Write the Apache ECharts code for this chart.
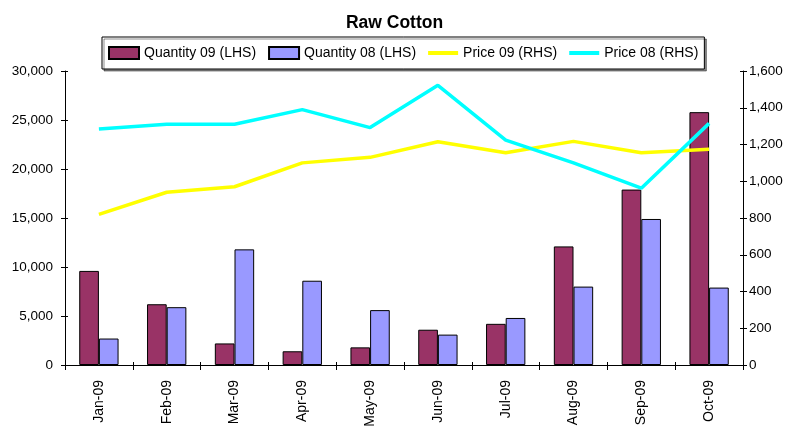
<!DOCTYPE html>
<html>
<head>
<meta charset="utf-8">
<script src="https://cdn.jsdelivr.net/npm/echarts@6/dist/echarts.min.js"></script>
<style>
  html, body { margin: 0; padding: 0; background: #fff; }
  #chart { width: 789px; height: 435px; }
</style>
</head>
<body>
<div id="chart"></div>
<script>
// months on the x axis
var months = ['Jan-09', 'Feb-09', 'Mar-09', 'Apr-09', 'May-09', 'Jun-09', 'Jul-09', 'Aug-09', 'Sep-09', 'Oct-09'];
// quantities (LHS)
var qty09 = [9600, 6200, 2200, 1400, 1800, 3600, 4200, 12100, 17900, 25800];
var qty08 = [2700, 5900, 11800, 8600, 5600, 3100, 4800, 8000, 14900, 7900];
// prices (RHS)
var price09 = [820, 940, 970, 1100, 1130, 1215, 1155, 1217, 1155, 1174];
var price08 = [1284, 1310, 1310, 1390, 1292, 1522, 1224, 1100, 962, 1315];

var font = 'Liberation Sans, Arial, sans-serif';
var lineIcon = 'path://M0,0 L30,0 L30,4 L0,4 Z';
var chart = echarts.init(document.getElementById('chart'));

function commas(v) {
  return String(v).replace(/\B(?=(\d{3})+(?!\d))/g, ',');
}

// plain copy of an axis that only draws the inner half of the ticks
function innerTicks(base) {
  return Object.assign({}, base, {
    axisLine: { show: false },
    axisLabel: { show: false },
    axisTick: { show: true, inside: true, length: 3, lineStyle: { color: '#000' } },
    splitLine: { show: false }
  });
}

var leftAxis = { type: 'value', min: 0, max: 30000, interval: 5000, position: 'left' };
var rightAxis = { type: 'value', min: 0, max: 1600, interval: 200, position: 'right' };
var catAxis = { type: 'category', data: months, boundaryGap: true, position: 'bottom' };

chart.setOption({
  backgroundColor: '#fff',
  animation: false,
  textStyle: { fontFamily: font },
  title: {
    text: 'Raw Cotton',
    left: 'center',
    top: 9,
    textStyle: { fontSize: 17.5, fontWeight: 'bold', color: '#000', fontFamily: font }
  },
  legend: {
    left: 102,
    top: 37,
    padding: [9, 6],
    itemGap: 12,
    itemWidth: 30,
    itemHeight: 12,
    borderColor: '#000',
    borderWidth: 1,
    shadowColor: 'rgba(0,0,0,0.45)',
    shadowOffsetX: 2,
    shadowOffsetY: 2,
    backgroundColor: '#fff',
    textStyle: { fontSize: 14, color: '#000', fontFamily: font },
    data: [
      { name: 'Quantity 09 (LHS)', icon: 'rect' },
      { name: 'Quantity 08 (LHS)', icon: 'rect' },
      { name: 'Price 09 (RHS)', icon: lineIcon },
      { name: 'Price 08 (RHS)', icon: lineIcon }
    ]
  },
  grid: { left: 65, right: 46, top: 71, bottom: 70 },
  xAxis: [
    Object.assign({}, catAxis, {
      axisLine: { lineStyle: { color: '#000', width: 1 } },
      axisTick: { show: true, length: 5, lineStyle: { color: '#000' } },
      axisLabel: { rotate: 90, margin: 15, fontSize: 14, color: '#000', fontFamily: font }
    }),
    innerTicks(catAxis)
  ],
  yAxis: [
    Object.assign({}, leftAxis, {
      splitLine: { show: false },
      axisLine: { show: true, lineStyle: { color: '#000' } },
      axisTick: { show: true, length: 4, lineStyle: { color: '#000' } },
      axisLabel: { margin: 12, fontSize: 13.5, color: '#000', fontFamily: font, formatter: commas }
    }),
    Object.assign({}, rightAxis, {
      splitLine: { show: false },
      axisLine: { show: true, lineStyle: { color: '#000' } },
      axisTick: { show: true, length: 4, lineStyle: { color: '#000' } },
      axisLabel: { margin: 6, fontSize: 13.5, color: '#000', fontFamily: font, formatter: commas }
    }),
    innerTicks(leftAxis),
    innerTicks(rightAxis)
  ],
  series: [
    {
      name: 'Quantity 09 (LHS)',
      type: 'bar',
      data: qty09,
      yAxisIndex: 0,
      barGap: '0%',
      barCategoryGap: '42%',
      itemStyle: { color: '#993366', borderColor: '#000', borderWidth: 1 }
    },
    {
      name: 'Quantity 08 (LHS)',
      type: 'bar',
      data: qty08,
      yAxisIndex: 0,
      barGap: '0%',
      barCategoryGap: '42%',
      itemStyle: { color: '#9999FF', borderColor: '#000', borderWidth: 1 }
    },
    {
      name: 'Price 09 (RHS)',
      type: 'line',
      data: price09,
      yAxisIndex: 1,
      symbol: 'none',
      z: 5,
      lineStyle: { color: '#FFFF00', width: 3.5 },
      itemStyle: { color: '#FFFF00' }
    },
    {
      name: 'Price 08 (RHS)',
      type: 'line',
      data: price08,
      yAxisIndex: 1,
      symbol: 'none',
      z: 5,
      lineStyle: { color: '#00FFFF', width: 3.5 },
      itemStyle: { color: '#00FFFF' }
    }
  ]
});
</script>
</body>
</html>
